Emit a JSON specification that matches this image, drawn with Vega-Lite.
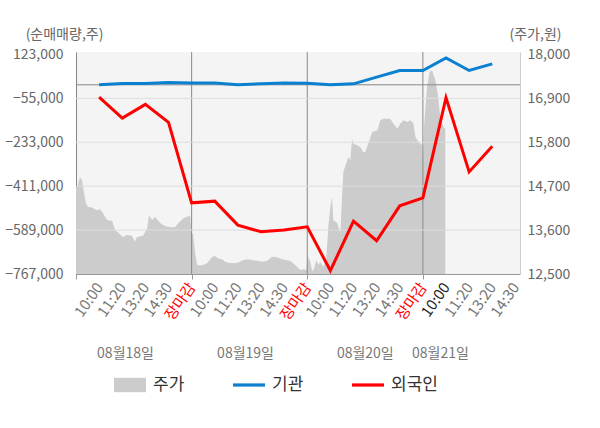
{
  "$schema": "https://vega.github.io/schema/vega-lite/v6.json",
  "width": 444,
  "height": 222,
  "autosize": {"type": "none"},
  "padding": {"left": 76, "top": 52, "right": 80, "bottom": 154},
  "config": {
    "font": "Noto Sans CJK KR",
    "background": "white",
    "view": {"fill": "#f4f4f4", "stroke": null}
  },
  "datasets": {
    "price": [
      {"i": -1, "p": 14650}, {"i": -0.91, "p": 14750}, {"i": -0.83, "p": 14925}, {"i": -0.74, "p": 14850},
      {"i": -0.65, "p": 14525}, {"i": -0.57, "p": 14275}, {"i": -0.48, "p": 14180}, {"i": -0.35, "p": 14175},
      {"i": -0.26, "p": 14150}, {"i": -0.09, "p": 14100}, {"i": 0.04, "p": 14125}, {"i": 0.17, "p": 14025},
      {"i": 0.34, "p": 13850}, {"i": 0.56, "p": 13830}, {"i": 0.69, "p": 13600}, {"i": 0.82, "p": 13540},
      {"i": 1.03, "p": 13430}, {"i": 1.21, "p": 13475}, {"i": 1.42, "p": 13460}, {"i": 1.55, "p": 13310},
      {"i": 1.64, "p": 13430}, {"i": 1.9, "p": 13460}, {"i": 2.07, "p": 13625}, {"i": 2.16, "p": 13975},
      {"i": 2.29, "p": 13850}, {"i": 2.42, "p": 13930}, {"i": 2.64, "p": 13775}, {"i": 2.85, "p": 13700},
      {"i": 3.07, "p": 13670}, {"i": 3.29, "p": 13680}, {"i": 3.42, "p": 13770}, {"i": 3.63, "p": 13890},
      {"i": 3.85, "p": 13950}, {"i": 3.94, "p": 13950},
      {"i": 4.0, "p": 13475}, {"i": 4.06, "p": 13525}, {"i": 4.15, "p": 13025}, {"i": 4.24, "p": 12725},
      {"i": 4.37, "p": 12710}, {"i": 4.5, "p": 12725}, {"i": 4.67, "p": 12770}, {"i": 4.89, "p": 12930},
      {"i": 5.02, "p": 12950}, {"i": 5.15, "p": 12890}, {"i": 5.32, "p": 12870}, {"i": 5.45, "p": 12810},
      {"i": 5.58, "p": 12780}, {"i": 5.8, "p": 12770}, {"i": 6.01, "p": 12780}, {"i": 6.23, "p": 12850},
      {"i": 6.45, "p": 12870}, {"i": 6.62, "p": 12850}, {"i": 6.84, "p": 12830}, {"i": 7.05, "p": 12810},
      {"i": 7.27, "p": 12830}, {"i": 7.48, "p": 12930}, {"i": 7.7, "p": 12920}, {"i": 7.83, "p": 12890},
      {"i": 8.05, "p": 12850}, {"i": 8.26, "p": 12830}, {"i": 8.48, "p": 12725}, {"i": 8.7, "p": 12600},
      {"i": 8.83, "p": 12620}, {"i": 8.96, "p": 12600},
      {"i": 9.03, "p": 12950}, {"i": 9.13, "p": 12810}, {"i": 9.22, "p": 12560}, {"i": 9.3, "p": 12650},
      {"i": 9.39, "p": 12850}, {"i": 9.48, "p": 12725}, {"i": 9.56, "p": 12810}, {"i": 9.69, "p": 12680},
      {"i": 9.82, "p": 12850}, {"i": 9.91, "p": 13680}, {"i": 10.0, "p": 14180}, {"i": 10.07, "p": 14430},
      {"i": 10.13, "p": 13850}, {"i": 10.3, "p": 13770}, {"i": 10.43, "p": 13520}, {"i": 10.5, "p": 14350},
      {"i": 10.56, "p": 15060}, {"i": 10.73, "p": 15350}, {"i": 10.77, "p": 15430}, {"i": 10.86, "p": 15350},
      {"i": 10.94, "p": 15890}, {"i": 10.99, "p": 15770}, {"i": 11.16, "p": 15725}, {"i": 11.29, "p": 15680},
      {"i": 11.42, "p": 15560}, {"i": 11.51, "p": 15560}, {"i": 11.64, "p": 15770}, {"i": 11.81, "p": 16060},
      {"i": 12.03, "p": 16100}, {"i": 12.16, "p": 16350}, {"i": 12.29, "p": 16390}, {"i": 12.59, "p": 16390},
      {"i": 12.72, "p": 16270}, {"i": 12.9, "p": 16140}, {"i": 13.03, "p": 16270}, {"i": 13.16, "p": 16350},
      {"i": 13.33, "p": 16310}, {"i": 13.46, "p": 16350}, {"i": 13.59, "p": 16270}, {"i": 13.68, "p": 15930},
      {"i": 13.81, "p": 15810}, {"i": 13.97, "p": 15725},
      {"i": 14.0, "p": 15350}, {"i": 14.06, "p": 16270}, {"i": 14.18, "p": 17180}, {"i": 14.29, "p": 17560},
      {"i": 14.4, "p": 17600}, {"i": 14.54, "p": 17350}, {"i": 14.64, "p": 17020}, {"i": 14.76, "p": 16390},
      {"i": 14.9, "p": 16180}, {"i": 14.97, "p": 16140}
    ],
    "flow": [
      {"i": 0, "기관": 0, "외국인": -49700},
      {"i": 1, "기관": 5000, "외국인": -134700},
      {"i": 2, "기관": 5000, "외국인": -79250},
      {"i": 3, "기관": 9000, "외국인": -152100},
      {"i": 4, "기관": 7000, "외국인": -478500},
      {"i": 5, "기관": 7000, "외국인": -471600},
      {"i": 6, "기관": 0, "외국인": -568700},
      {"i": 7, "기관": 4000, "외국인": -595800},
      {"i": 8, "기관": 7000, "외국인": -588900},
      {"i": 9, "기관": 6000, "외국인": -575600},
      {"i": 10, "기관": 0, "외국인": -753600},
      {"i": 11, "기관": 4000, "외국인": -552500},
      {"i": 12, "기관": 31000, "외국인": -632200},
      {"i": 13, "기관": 58000, "외국인": -490600},
      {"i": 14, "기관": 58000, "외국인": -458300},
      {"i": 15, "기관": 109000, "외국인": -52100},
      {"i": 16, "기관": 58000, "외국인": -353100},
      {"i": 17, "기관": 85000, "외국인": -249100}
    ]
  },
  "layer": [
    {
      "data": {"name": "price"},
      "mark": {"type": "area", "opacity": 1, "clip": true},
      "encoding": {
        "x": {
          "field": "i",
          "type": "quantitative",
          "scale": {"domain": [-1, 18.2], "nice": false, "zero": false},
          "axis": {
            "orient": "bottom",
            "values": [-1, 0, 1, 2, 3, 4, 5, 6, 7, 8, 9, 10, 11, 12, 13, 14, 15, 16, 17, 18],
            "labelExpr": "datum.value < 0 ? '' : ['10:00','11:20','13:20','14:30','장마감'][datum.value % 5]",
            "labelAngle": -55,
            "labelAlign": "right",
            "labelBaseline": "middle",
            "labelFontSize": 15,
            "labelColor": {
              "condition": [
                {"test": "datum.value % 5 == 4", "value": "#ff0000"},
                {"test": "datum.value == 15", "value": "#222222"}
              ],
              "value": "#777777"
            },
            "labelOverlap": false,
            "labelFlush": false,
            "labelPadding": 5,
            "ticks": true,
            "tickSize": 5,
            "tickColor": "#999999",
            "tickOpacity": {
              "condition": {"test": "datum.value == -1 || datum.value % 5 == 4", "value": 1},
              "value": 0
            },
            "domainColor": "#999999",
            "grid": false,
            "title": null
          }
        },
        "y": {
          "field": "p",
          "type": "quantitative",
          "scale": {"domain": [12500, 18062.5], "nice": false, "zero": false},
          "axis": {
            "orient": "right",
            "values": [12500, 13600, 14700, 15800, 16900, 18000],
            "format": ",.0f",
            "title": "(주가,원)",
            "titleAngle": 0,
            "titleX": 15,
            "titleY": -18,
            "titleAlign": "center",
            "titleBaseline": "middle",
            "titleFontSize": 14,
            "titleFontWeight": "normal",
            "titleColor": "#666666",
            "labelFontSize": 14,
            "labelColor": "#666666",
            "labelPadding": 7,
            "ticks": false,
            "tickSize": 0,
            "grid": false,
            "domainColor": "#cccccc"
          }
        },
        "color": {"datum": "주가"}
      }
    },
    {
      "data": {"values": [{"i": 4}, {"i": 9}, {"i": 14}]},
      "mark": {"type": "rule", "color": "#888888", "strokeWidth": 1},
      "encoding": {
        "x": {
          "field": "i",
          "type": "quantitative",
          "scale": {"domain": [-1, 18.2], "nice": false, "zero": false},
          "axis": null
        }
      }
    },
    {
      "encoding": {
        "y": {
          "field": "v",
          "type": "quantitative",
          "scale": {"domain": [-767000, 133000], "nice": false, "zero": false},
          "axis": {
            "orient": "left",
            "values": [123000, -55000, -233000, -411000, -589000, -767000],
            "format": ",.0f",
            "title": "(순매매량,주)",
            "titleAngle": 0,
            "titleX": -12,
            "titleY": -18,
            "titleAlign": "center",
            "titleBaseline": "middle",
            "titleFontSize": 14,
            "titleFontWeight": "normal",
            "titleColor": "#666666",
            "labelFontSize": 14,
            "labelColor": "#666666",
            "labelPadding": 13,
            "ticks": false,
            "tickSize": 0,
            "grid": false,
            "domainColor": "#888888"
          }
        }
      },
      "layer": [
        {
          "data": {"values": [{"v": -55000}, {"v": -233000}, {"v": -411000}, {"v": -589000}]},
          "mark": {"type": "rule", "color": "#dddddd", "strokeWidth": 1}
        },
        {
          "data": {"values": [{"v": 0}]},
          "mark": {"type": "rule", "color": "#888888", "strokeWidth": 1}
        },
        {
          "data": {"name": "flow"},
          "transform": [{"fold": ["기관", "외국인"], "as": ["s", "v"]}],
          "mark": {"type": "line", "strokeWidth": 3},
          "encoding": {
            "x": {
              "field": "i",
              "type": "quantitative",
              "scale": {"domain": [-1, 18.2], "nice": false, "zero": false},
              "axis": {
                "orient": "bottom",
                "values": [1.12, 6.31, 11.49, 14.74],
                "labelExpr": "datum.value < 3 ? '08월18일' : datum.value < 8 ? '08월19일' : datum.value < 13 ? '08월20일' : '08월21일'",
                "labelAngle": 0,
                "labelAlign": "center",
                "labelBaseline": "middle",
                "labelFontSize": 14,
                "labelColor": "#777777",
                "labelPadding": 0,
                "labelOverlap": false,
                "labelFlush": false,
                "ticks": false,
                "domain": false,
                "grid": false,
                "offset": 79,
                "title": null
              }
            },
            "color": {
              "field": "s",
              "type": "nominal",
              "scale": {"domain": ["주가", "기관", "외국인"], "range": ["#cccccc", "#0b7fd0", "#ff0000"]},
              "legend": {
                "orient": "none",
                "legendX": 38,
                "legendY": 317,
                "direction": "horizontal",
                "title": null,
                "padding": 0,
                "gridAlign": "all",
                "columnPadding": 33,
                "symbolSize": 1024,
                "symbolType": "M-1,-0.45H1V0.45H-1Z",
                "symbolStrokeWidth": 0,
                "labelFontSize": 17,
                "labelColor": "#333333",
                "labelOffset": 7,
                "encode": {
                  "symbols": {
                    "update": {
                      "shape": {"signal": "datum.value === '주가' ? 'M-1,-0.45H1V0.45H-1Z' : 'M-1,-0.1H1V0.1H-1Z'"},
                      "fill": {"signal": "datum.value === '주가' ? '#cccccc' : datum.value === '기관' ? '#0b7fd0' : '#ff0000'"},
                      "stroke": {"value": "transparent"},
                      "strokeWidth": {"value": 0},
                      "opacity": {"value": 1}
                    }
                  }
                }
              }
            }
          }
        }
      ]
    }
  ],
  "resolve": {
    "scale": {"y": "independent"},
    "axis": {"x": "independent", "y": "independent"}
  }
}
